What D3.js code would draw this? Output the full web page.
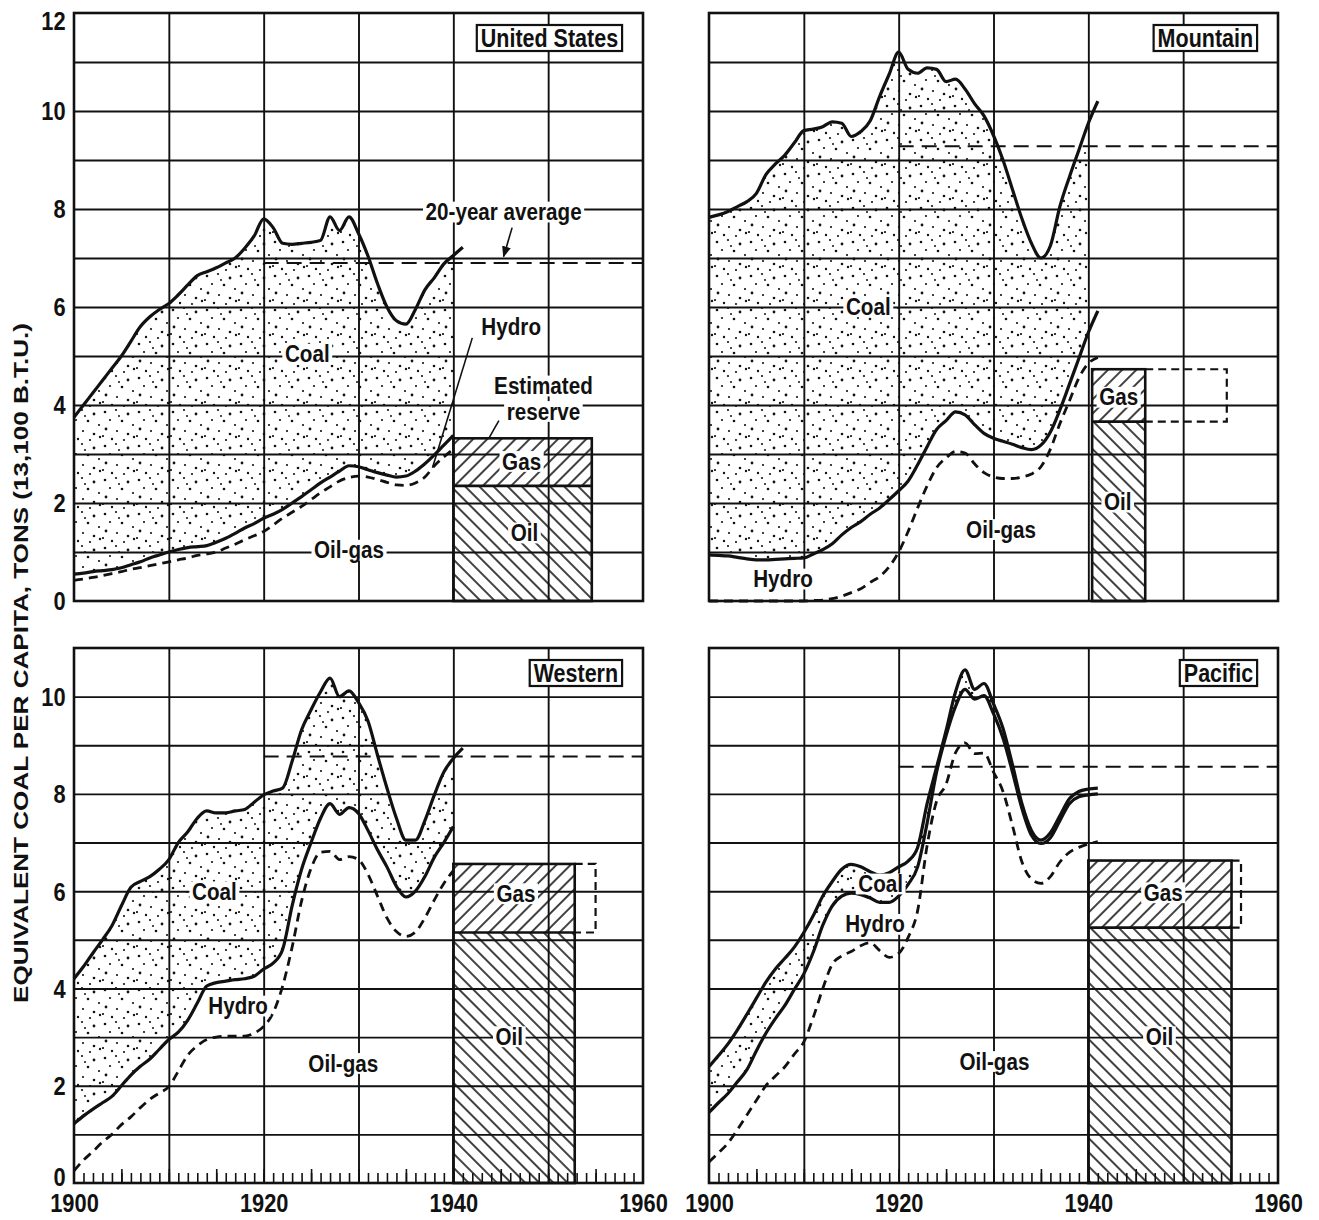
<!DOCTYPE html>
<html>
<head>
<meta charset="utf-8">
<script src="https://cdn.jsdelivr.net/npm/d3@7"></script>
<style>
body { margin: 0; background: #fff; }
text { font-family: "Liberation Sans", Arial, sans-serif; }
</style>
</head>
<body>
<svg id="chart" width="1319" height="1220"></svg>
<script>
// ---- data ----
var years = [1900,1901,1902,1903,1904,1905,1906,1907,1908,1909,
             1910,1911,1912,1913,1914,1915,1916,1917,1918,1919,
             1920,1921,1922,1923,1924,1925,1926,1927,1928,1929,
             1930,1931,1932,1933,1934,1935,1936,1937,1938,1939,
             1940,1941];

// top of coal band (= total), top of hydro band, top of oil-gas band
var usTotal = [3.75,4.0,4.25,4.5,4.75,5.0,5.3,5.6,5.8,5.95,
               6.07,6.25,6.45,6.64,6.72,6.8,6.9,7.0,7.2,7.45,
               7.8,7.62,7.3,7.28,7.3,7.32,7.36,7.84,7.56,7.84,
               7.5,7.04,6.48,6.0,5.72,5.65,5.95,6.35,6.6,6.88,
               7.05,7.22];
var usHydro = [0.55,0.57,0.6,0.62,0.64,0.68,0.74,0.8,0.88,0.94,
               1.0,1.05,1.09,1.11,1.13,1.2,1.28,1.38,1.49,1.58,
               1.69,1.77,1.87,2.0,2.13,2.27,2.41,2.53,2.65,2.76,
               2.74,2.68,2.62,2.57,2.53,2.55,2.65,2.8,2.98,3.18,
               3.38,null];
var usOilGas = [0.42,0.45,0.48,0.52,0.56,0.6,0.65,0.68,0.72,0.76,
                0.8,0.84,0.88,0.93,0.96,1.0,1.08,1.16,1.25,1.33,
                1.42,1.55,1.69,1.81,1.93,2.07,2.21,2.33,2.45,2.52,
                2.55,2.53,2.48,2.42,2.37,2.36,2.41,2.53,2.76,2.94,
                3.1,null];

var mtnTotal = [7.83,7.88,7.95,8.05,8.15,8.32,8.7,8.92,9.1,9.35,
                9.6,9.63,9.68,9.78,9.75,9.48,9.58,9.8,10.3,10.75,
                11.2,10.85,10.77,10.88,10.85,10.6,10.65,10.45,10.15,9.9,
                9.5,9.0,8.4,7.8,7.3,7.0,7.25,8.05,8.65,9.2,
                9.75,10.2];
var mtnHydro = [0.94,0.93,0.92,0.89,0.86,0.84,0.84,0.85,0.86,0.87,
                0.88,0.96,1.05,1.17,1.35,1.5,1.62,1.77,1.9,2.07,
                2.25,2.45,2.78,3.15,3.5,3.68,3.86,3.8,3.6,3.42,
                3.32,3.26,3.2,3.13,3.09,3.18,3.45,3.9,4.42,4.95,
                5.48,5.92];
var mtnOilGas = [0,0,0,0,0,0,0,0,0,0,
                 0,0.01,0.02,0.05,0.1,0.17,0.25,0.38,0.5,0.7,
                 1.0,1.42,1.9,2.35,2.72,2.92,3.05,3.02,2.8,2.62,
                 2.53,2.5,2.5,2.53,2.59,2.74,3.1,3.62,4.08,4.55,
                 4.85,4.97];

var wesTotal = [4.2,4.45,4.73,5.0,5.29,5.7,6.08,6.2,6.3,6.45,
                6.65,7.0,7.22,7.5,7.65,7.61,7.61,7.65,7.68,7.83,
                7.98,8.06,8.12,8.67,9.32,9.73,10.1,10.38,10.0,10.12,
                9.88,9.5,8.8,8.12,7.5,7.05,7.05,7.45,7.98,8.45,
                8.73,8.94];
var wesHydro = [1.22,1.38,1.52,1.65,1.78,2.0,2.22,2.4,2.55,2.75,
                2.95,3.1,3.35,3.7,4.05,4.12,4.15,4.18,4.2,4.25,
                4.4,4.52,4.8,5.7,6.45,7.0,7.5,7.8,7.58,7.72,
                7.6,7.25,6.85,6.5,6.1,5.88,6.0,6.3,6.7,7.0,
                7.33,null];
var wesOilGas = [0.25,0.47,0.65,0.84,1.0,1.2,1.36,1.55,1.72,1.85,
                 1.98,2.3,2.63,2.82,2.95,3.0,3.02,3.02,3.02,3.08,
                 3.22,3.5,4.05,4.85,5.8,6.47,6.8,6.82,6.65,6.71,
                 6.65,6.35,5.9,5.45,5.17,5.07,5.16,5.45,5.82,6.16,
                 6.42,null];

var pacTotal = [2.39,2.62,2.86,3.15,3.47,3.8,4.13,4.4,4.62,4.85,
                5.15,5.5,5.9,6.2,6.45,6.55,6.5,6.4,6.33,6.38,
                6.5,6.62,6.9,7.8,8.55,9.3,10.1,10.55,10.15,10.27,
                9.85,9.35,8.6,7.8,7.25,7.05,7.2,7.55,7.9,8.05,
                8.1,8.12];
var pacHydro = [1.45,1.65,1.84,2.08,2.33,2.72,3.08,3.38,3.65,3.98,
                4.3,4.75,5.3,5.7,5.9,5.96,5.93,5.86,5.77,5.77,
                5.9,6.14,6.5,7.4,8.45,9.2,9.8,10.15,9.95,10.02,
                9.65,9.15,8.45,7.7,7.15,6.98,7.1,7.45,7.8,7.94,
                7.98,8.0];
var pacOilGas = [0.43,0.62,0.82,1.1,1.4,1.7,2.0,2.2,2.39,2.65,
                 2.9,3.41,4.0,4.5,4.67,4.76,4.88,4.94,4.78,4.64,
                 4.72,5.05,5.6,6.94,7.85,8.2,8.85,9.05,8.83,8.84,
                 8.45,8.05,7.35,6.6,6.25,6.16,6.3,6.6,6.8,6.9,
                 6.97,7.02];

// estimated reserve boxes and 20-year averages (one entry per region)
var regionNames   = ["United States", "Mountain", "Western", "Pacific"];
var average20     = [6.9, 9.28, 8.77, 8.56];
var reserveOil    = [2.35, 3.66, 5.15, 5.25];
var reserveGas    = [3.32, 4.73, 6.56, 6.63];
var reserveFrom   = [1940, 1940.4, 1940, 1940];
var reserveTo     = [1954.6, 1946, 1952.8, 1955.1];
var reserveDashTo = [null, 1954.6, 1955, 1956.1];

var yTicksTop = [0,2,4,6,8,10,12];
var yTicksBottom = [0,2,4,6,8,10];
var xTickLabels = [1900,1920,1940,1960];

// text annotations [text, year, value]
var usNotes  = [["Coal",1924.6,5.05],["Oil-gas",1929,1.05],["Hydro",1946.1,5.6],
                ["Estimated",1949.5,4.4],["reserve",1949.5,3.88],["Gas",1947.2,2.86],
                ["Oil",1947.5,1.4],["20-year average",1945.3,7.95]];
var mtnNotes = [["Coal",1916.8,6.02],["Hydro",1907.8,0.46],["Oil-gas",1930.8,1.47],
                ["Gas",1943.2,4.17],["Oil",1943.1,2.03]];
var wesNotes = [["Coal",1914.8,6.0],["Hydro",1917.3,3.65],["Oil-gas",1928.4,2.47],
                ["Gas",1946.6,5.96],["Oil",1945.9,3.02]];
var pacNotes = [["Coal",1918.1,6.16],["Hydro",1917.5,5.33],["Oil-gas",1930.1,2.51],
                ["Gas",1947.9,5.98],["Oil",1947.5,3.02]];
// leader lines [year1, value1, year2, value2, arrow]
var usLeaders = [[1942, 5.37, 1937.8, 2.72, false],
                 [1944.8, 3.68, 1943.8, 3.34, false],
                 [1946.2, 7.62, 1945.3, 7.03, true]];

// ---- layout ----
var panels = [
  {name: regionNames[0], i: 0, total: usTotal,  hydro: usHydro,  oil: usOilGas,  notes: usNotes,  leaders: usLeaders,
   left: 74, right: 643, top: 13, bottom: 601, ymax: 12, yLabels: yTicksTop, xLabels: false},
  {name: regionNames[1], i: 1, total: mtnTotal, hydro: mtnHydro, oil: mtnOilGas, notes: mtnNotes, leaders: [],
   left: 709, right: 1278, top: 13, bottom: 601, ymax: 12, yLabels: null, xLabels: false},
  {name: regionNames[2], i: 2, total: wesTotal, hydro: wesHydro, oil: wesOilGas, notes: wesNotes, leaders: [],
   left: 74, right: 643, top: 648, bottom: 1183, ymax: 11, yLabels: yTicksBottom, xLabels: true},
  {name: regionNames[3], i: 3, total: pacTotal, hydro: pacHydro, oil: pacOilGas, notes: pacNotes, leaders: [],
   left: 709, right: 1278, top: 648, bottom: 1183, ymax: 11, yLabels: null, xLabels: true}
];

var svg = d3.select("#chart");
var defs = svg.append("defs");

// stipple texture for the coal band
var stipple = defs.append("pattern").attr("id", "stipple")
    .attr("patternUnits", "userSpaceOnUse").attr("width", 34).attr("height", 34);
var dots = [[3,4,1.3],[14,2,1.1],[26,6,1.4],[8,12,1.1],[20,13,1.3],[31,17,1.1],[4,21,1.4],
            [15,23,1.1],[26,26,1.3],[10,31,1.2],[22,32,1.1],[32,29,1.2],[17,8,1.0],[1,28,1.1]];
stipple.selectAll("circle").data(dots).enter().append("circle")
    .attr("cx", function(d) { return d[0]; })
    .attr("cy", function(d) { return d[1]; })
    .attr("r", function(d) { return d[2]; })
    .attr("fill", "#111");

function hatch(id, angle) {
  var p = defs.append("pattern").attr("id", id)
      .attr("patternUnits", "userSpaceOnUse").attr("width", 10).attr("height", 10)
      .attr("patternTransform", "rotate(" + angle + ")");
  p.append("rect").attr("width", 10).attr("height", 10).attr("fill", "#fff");
  p.append("line").attr("x1", 5).attr("y1", -1).attr("x2", 5).attr("y2", 11)
      .attr("stroke", "#111").attr("stroke-width", 1.6);
}
hatch("oilHatch", -45);
hatch("gasHatch", 45);

defs.append("marker").attr("id", "arrow")
    .attr("viewBox", "0 0 10 10").attr("refX", 9).attr("refY", 5)
    .attr("markerWidth", 7).attr("markerHeight", 7).attr("orient", "auto")
    .append("path").attr("d", "M0,1 L10,5 L0,9 z").attr("fill", "#111");

function styleLines(sel, w) {
  sel.select(".domain").remove();
  sel.selectAll("line").attr("stroke", "#111").attr("stroke-width", w);
}

// condensed text: regular face squeezed horizontally
var SQ = 0.86;
function addLabel(g, txt, px, py) {
  var lg = g.append("g").attr("transform", "translate(" + px + "," + py + ") scale(" + SQ + ",1)");
  var t = lg.append("text")
      .attr("dy", "0.36em").attr("text-anchor", "middle")
      .attr("font-size", 24).attr("font-weight", "bold")
      .attr("fill", "#111")
      .text(txt);
  var b = t.node().getBBox();
  lg.insert("rect", "text")
      .attr("x", b.x - 3).attr("y", b.y + 3)
      .attr("width", b.width + 6).attr("height", b.height - 6)
      .attr("fill", "#fff");
}

panels.forEach(function(p) {
  var g = svg.append("g");
  var x = d3.scaleLinear().domain([1900, 1960]).range([p.left, p.right]);
  var y = d3.scaleLinear().domain([0, p.ymax]).range([p.bottom, p.top]);

  var rows = years.map(function(yr, k) {
    return {year: yr, total: p.total[k], hydro: p.hydro[k], oil: p.oil[k]};
  });

  // coal band, stippled, up to 1940
  var coalArea = d3.area()
      .defined(function(d) { return d.year <= 1940 && d.hydro != null; })
      .x(function(d) { return x(d.year); })
      .y0(function(d) { return y(d.hydro); })
      .y1(function(d) { return y(d.total); })
      .curve(d3.curveMonotoneX);
  g.append("path").datum(rows).attr("d", coalArea).attr("fill", "url(#stipple)");

  // estimated reserve
  var i = p.i;
  g.append("rect")
      .attr("x", x(reserveFrom[i])).attr("y", y(reserveOil[i]))
      .attr("width", x(reserveTo[i]) - x(reserveFrom[i]))
      .attr("height", y(0) - y(reserveOil[i]))
      .attr("fill", "url(#oilHatch)");
  g.append("rect")
      .attr("x", x(reserveFrom[i])).attr("y", y(reserveGas[i]))
      .attr("width", x(reserveTo[i]) - x(reserveFrom[i]))
      .attr("height", y(reserveOil[i]) - y(reserveGas[i]))
      .attr("fill", "url(#gasHatch)");

  // grid
  var gx = g.append("g").attr("transform", "translate(0," + p.bottom + ")")
      .call(d3.axisBottom(x).tickValues([1910, 1920, 1930, 1940, 1950])
            .tickSize(-(p.bottom - p.top)).tickFormat(""));
  styleLines(gx, 1.9);
  var gy = g.append("g").attr("transform", "translate(" + p.left + ",0)")
      .call(d3.axisLeft(y).tickValues(d3.range(1, p.ymax))
            .tickSize(-(p.right - p.left)).tickFormat(""));
  styleLines(gy, 1.9);

  // reserve outlines
  var rs = g.append("g").attr("fill", "none").attr("stroke", "#111").attr("stroke-width", 2.6);
  rs.append("rect")
      .attr("x", x(reserveFrom[i])).attr("y", y(reserveGas[i]))
      .attr("width", x(reserveTo[i]) - x(reserveFrom[i]))
      .attr("height", y(0) - y(reserveGas[i]));
  rs.append("line")
      .attr("x1", x(reserveFrom[i])).attr("x2", x(reserveTo[i]))
      .attr("y1", y(reserveOil[i])).attr("y2", y(reserveOil[i]));
  if (reserveDashTo[i] != null) {
    rs.append("path")
        .attr("stroke-width", 2.2).attr("stroke-dasharray", "8,5")
        .attr("d", "M" + x(reserveTo[i]) + "," + y(reserveGas[i]) +
                   "H" + x(reserveDashTo[i]) + "V" + y(reserveOil[i]) +
                   "H" + x(reserveTo[i]));
  }

  // year ticks on the bottom row
  if (p.xLabels) {
    var mt = g.append("g").attr("transform", "translate(0," + p.bottom + ")")
        .call(d3.axisBottom(x).tickValues(d3.range(1901, 1960)).tickSize(-10).tickFormat(""));
    styleLines(mt, 1.6);
    var mt5 = g.append("g").attr("transform", "translate(0," + p.bottom + ")")
        .call(d3.axisBottom(x).tickValues(d3.range(1905, 1960, 5)).tickSize(-14).tickFormat(""));
    styleLines(mt5, 1.6);
  }

  // frame
  g.append("rect")
      .attr("x", p.left).attr("y", p.top)
      .attr("width", p.right - p.left).attr("height", p.bottom - p.top)
      .attr("fill", "none").attr("stroke", "#111").attr("stroke-width", 2.6);

  // 20-year average
  g.append("line")
      .attr("x1", x(1920)).attr("x2", x(1960))
      .attr("y1", y(average20[i])).attr("y2", y(average20[i]))
      .attr("stroke", "#111").attr("stroke-width", 2).attr("stroke-dasharray", "15,8");

  // curves
  function curve(key) {
    return d3.line()
        .defined(function(d) { return d[key] != null; })
        .x(function(d) { return x(d.year); })
        .y(function(d) { return y(d[key]); })
        .curve(d3.curveMonotoneX);
  }
  g.append("path").datum(rows).attr("d", curve("oil"))
      .attr("fill", "none").attr("stroke", "#111").attr("stroke-width", 2.8)
      .attr("stroke-dasharray", "9,6");
  g.append("path").datum(rows).attr("d", curve("hydro"))
      .attr("fill", "none").attr("stroke", "#111").attr("stroke-width", 3.2)
      .attr("stroke-linejoin", "round");
  g.append("path").datum(rows).attr("d", curve("total"))
      .attr("fill", "none").attr("stroke", "#111").attr("stroke-width", 3.2)
      .attr("stroke-linejoin", "round");

  // leaders
  p.leaders.forEach(function(l) {
    var ln = g.append("line")
        .attr("x1", x(l[0])).attr("y1", y(l[1]))
        .attr("x2", x(l[2])).attr("y2", y(l[3]))
        .attr("stroke", "#111").attr("stroke-width", 1.6);
    if (l[4]) ln.attr("marker-end", "url(#arrow)");
  });

  // annotations
  var lg = g.append("g");
  p.notes.forEach(function(n) { addLabel(lg, n[0], x(n[1]), y(n[2])); });

  // region name box
  var nx = x(1957.9) - 5, ny = p.top + 25;
  var ng = g.append("g").attr("transform", "translate(" + nx + "," + ny + ") scale(" + SQ + ",1)");
  var nt = ng.append("text")
      .attr("dy", "0.36em").attr("text-anchor", "end")
      .attr("font-size", 25).attr("font-weight", "bold")
      .attr("fill", "#111").text(p.name);
  var nb = nt.node().getBBox();
  g.insert("rect", function() { return ng.node(); })
      .attr("x", nx + nb.x * SQ - 4).attr("y", p.top + 12)
      .attr("width", nb.width * SQ + 8).attr("height", 26)
      .attr("fill", "#fff").attr("stroke", "#111").attr("stroke-width", 2.2);

  // axis labels
  if (p.yLabels) {
    var ay = g.append("g").attr("transform", "translate(" + p.left + ",0)")
        .call(d3.axisLeft(y).tickValues(p.yLabels).tickSize(0).tickPadding(10));
    ay.select(".domain").remove();
    ay.selectAll("text")
        .attr("font-family", null).attr("font-size", 26).attr("font-weight", "bold").attr("fill", "#111")
        .attr("transform", "scale(0.84,1)")
        .attr("dy", function(d) { return d === 12 ? "0.62em" : (d === 0 && p.ymax === 11 ? "0.08em" : "0.34em"); });
  }
  if (p.xLabels) {
    var ax = g.append("g").attr("transform", "translate(0," + p.bottom + ")")
        .call(d3.axisBottom(x).tickValues(xTickLabels).tickSize(0).tickPadding(11)
              .tickFormat(d3.format("d")));
    ax.select(".domain").remove();
    ax.selectAll("text")
        .attr("font-family", null).attr("font-size", 26).attr("font-weight", "bold").attr("fill", "#111")
        .attr("transform", "scale(0.84,1)");
  }
});

// shared y-axis title
svg.append("text")
    .attr("transform", "translate(21,663) rotate(-90)")
    .attr("text-anchor", "middle").attr("dy", "0.35em")
    .attr("font-size", 21).attr("font-weight", "bold").attr("fill", "#111")
    .attr("textLength", 680).attr("lengthAdjust", "spacingAndGlyphs")
    .text("EQUIVALENT COAL PER CAPITA, TONS (13,100 B.T.U.)");
</script>
</body>
</html>
